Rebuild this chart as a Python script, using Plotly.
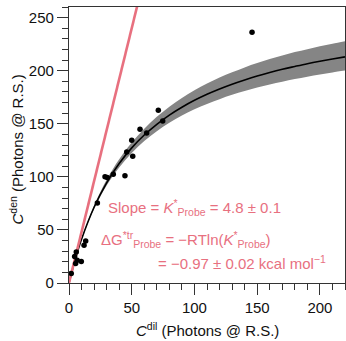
import plotly.graph_objects as go

# ---- data ----
obs_x = [1.8, 4.5, 5.8, 5.3, 6.5, 9.8, 12.0, 13.3, 22.6, 28.7, 30.5, 35.3, 44.6,
         46.0, 50.0, 50.8, 56.6, 61.9, 71.2, 74.7, 145.9]
obs_y = [9.0, 25.0, 29.2, 18.3, 21.5, 20.2, 35.5, 39.6, 75.4, 100.0, 99.5, 102.4, 101.0,
         123.4, 134.4, 119.3, 144.8, 141.3, 162.7, 152.6, 236.2]

fit_x = [0, 5, 10, 20, 30, 40, 50, 60, 70, 80, 90, 100, 110, 120, 130, 140,
         150, 160, 170, 180, 190, 200, 210, 220]
fit_y = [0, 22.4, 41.3, 71.4, 94.4, 112.6, 127.3, 139.4, 149.5, 158.2, 165.6, 172.1,
         177.8, 182.8, 187.3, 191.3, 195.0, 198.3, 201.3, 204.0, 206.6, 208.9, 211.0, 213.0]
band_hi = [0, 22.5, 41.7, 73.0, 97.2, 116.5, 132.3, 145.4, 156.6, 166.1, 174.3, 181.5,
           187.9, 193.5, 198.5, 203.1, 207.2, 210.9, 214.3, 217.5, 220.3, 223.0, 225.4, 227.7]
band_lo = [0, 22.2, 40.7, 69.9, 91.8, 108.8, 122.5, 133.7, 143.0, 150.9, 157.7, 163.6,
           168.7, 173.2, 177.3, 180.9, 184.1, 187.1, 189.7, 192.2, 194.4, 196.5, 198.4, 200.1]

slope_x = [0, 60]
slope_y = [0, 288]   # slope 4.8

x_ticks = [0, 50, 100, 150, 200]
y_ticks = [0, 50, 100, 150, 200, 250]

PINK = "#E8707F"
FONT = "Liberation Sans, Arial, Helvetica, sans-serif"

fig = go.Figure()
fig.add_trace(go.Scatter(x=fit_x, y=band_hi, mode="lines", line=dict(width=0, shape="spline"),
                         hoverinfo="skip", showlegend=False))
fig.add_trace(go.Scatter(x=fit_x, y=band_lo, mode="lines", line=dict(width=0, shape="spline"),
                         fill="tonexty", fillcolor="#858585", hoverinfo="skip", showlegend=False))
fig.add_trace(go.Scatter(x=fit_x, y=fit_y, mode="lines",
                         line=dict(color="black", width=1.6, shape="spline"), showlegend=False))
fig.add_trace(go.Scatter(x=slope_x, y=slope_y, mode="lines",
                         line=dict(color=PINK, width=2.6), showlegend=False))
fig.add_trace(go.Scatter(x=obs_x, y=obs_y, mode="markers",
                         marker=dict(color="black", size=5.5), showlegend=False))

axis_common = dict(
    showgrid=False, zeroline=False, showline=True, mirror=True,
    linecolor="#333333", linewidth=1.3,
    ticks="outside", ticklen=11, tickwidth=1.2, tickcolor="#333333",
    tickfont=dict(family=FONT, size=15, color="#111111"),
    minor=dict(ticks="outside", ticklen=6, tickwidth=1.2, tickcolor="#333333", dtick=10),
)
fig.update_xaxes(range=[0, 220], tickvals=x_ticks, **axis_common)
fig.update_yaxes(range=[0, 260], tickvals=y_ticks, **axis_common)

ann_font = dict(family=FONT, size=15, color=PINK)
fig.update_layout(
    width=346, height=341,
    margin=dict(l=69, r=1, t=7, b=58),
    plot_bgcolor="white", paper_bgcolor="white",
    font=dict(family=FONT),
    annotations=[
        dict(xref="paper", yref="paper", x=0.135, y=0.272, xanchor="left", yanchor="middle",
             showarrow=False, font=ann_font,
             text="Slope = <i>K</i><sup>*</sup><sub>Probe</sub> = 4.8 ± 0.1"),
        dict(xref="paper", yref="paper", x=0.11, y=0.158, xanchor="left", yanchor="middle",
             showarrow=False, font=ann_font,
             text="ΔG<sup>*tr</sup><sub>Probe</sub> = −RTln(<i>K</i><sup>*</sup><sub>Probe</sub>)"),
        dict(xref="paper", yref="paper", x=0.316, y=0.076, xanchor="left", yanchor="middle",
             showarrow=False, font=ann_font,
             text="= −0.97 ± 0.02 kcal mol<sup>−1</sup>"),
        dict(xref="paper", yref="paper", x=0.5, y=-0.167, xanchor="center", yanchor="middle",
             showarrow=False, font=dict(family=FONT, size=15, color="#111111"),
             text="<i>C</i><sup>dil</sup> (Photons @ R.S.)"),
        dict(xref="paper", yref="paper", x=-0.19, y=0.482, xanchor="center", yanchor="middle",
             showarrow=False, textangle=-90, font=dict(family=FONT, size=15, color="#111111"),
             text="<i>C</i><sup>den</sup> (Photons @ R.S.)"),
    ],
)

fig.write_html("out.html", config={"displayModeBar": False},
               post_script="document.body.style.margin='0px';")
